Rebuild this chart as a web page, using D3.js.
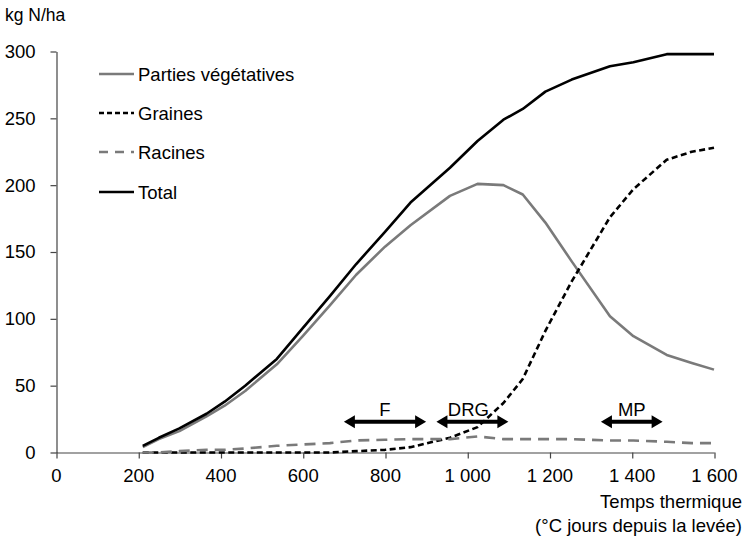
<!DOCTYPE html>
<html>
<head>
<meta charset="utf-8">
<script src="https://cdn.jsdelivr.net/npm/d3@7"></script>
<style>
  html, body { margin: 0; padding: 0; background: #fff; }
  svg { display: block; font-family: "Liberation Sans", Arial, Helvetica, sans-serif; }
</style>
</head>
<body>
<svg id="chart" width="745" height="539"></svg>
<script>
// ---- Data ----
const thermalTime = [211, 250, 300, 366, 410, 460, 537, 600, 666, 730, 800, 862, 958, 1025, 1088, 1135, 1190, 1254, 1347, 1404, 1485, 1546, 1600];
const vegetative  = [4, 10, 16, 27, 35, 46, 66, 87, 110, 133, 154, 170, 192, 201, 200, 193, 172, 143, 102, 87, 73, 67, 62];
const seeds       = [0, 0, 0, 0, 0, 0, 0, 0, 0, 1, 2, 4, 11, 19, 37, 55, 91, 128, 176, 197, 219, 225, 228];
const roots       = [0, 0, 1, 2, 2, 3, 5, 6, 7, 9, 9.5, 10, 10, 12, 10, 10, 10, 10, 9, 9, 8, 7, 7];
const total       = [5, 11, 18, 29, 38, 50, 70, 93, 117, 141, 165, 187, 213, 233, 249, 257, 270, 279, 289, 292, 298, 298, 298];

const seriesNames = ["Parties végétatives", "Graines", "Racines", "Total"];
const xTickValues = [0, 200, 400, 600, 800, 1000, 1200, 1400, 1600];
const xTickLabels = ["0", "200", "400", "600", "800", "1 000", "1 200", "1 400", "1 600"];
const yTickValues = [0, 50, 100, 150, 200, 250, 300];

const phaseLabels = ["F", "DRG", "MP"];
const phaseStart  = [700, 925, 1325];
const phaseEnd    = [900, 1100, 1475];
const phaseLevel  = 23;

// ---- Layout ----
const svg = d3.select("#chart");
const x = d3.scaleLinear().domain([0, 1600]).range([56, 714]);
const y = d3.scaleLinear().domain([0, 300]).range([452.5, 51.5]);

const axisColor = "#444";
const fontSize = 18.5;

// Axes
const gx = svg.append("g").attr("transform", "translate(0,452.5)")
  .call(d3.axisBottom(x).tickValues(xTickValues)
    .tickFormat((d, i) => xTickLabels[i]).tickSize(6).tickSizeOuter(0).tickPadding(10));
const gy = svg.append("g").attr("transform", "translate(56.5,0)")
  .call(d3.axisLeft(y).tickValues(yTickValues).tickSize(6).tickSizeOuter(0).tickPadding(15));

[gx, gy].forEach(g => {
  g.select(".domain").attr("stroke", axisColor).attr("stroke-width", 1.2);
  g.selectAll(".tick line").attr("stroke", axisColor).attr("stroke-width", 1.2);
  g.selectAll(".tick text").attr("fill", "#000").attr("font-size", fontSize)
    .attr("font-family", "Liberation Sans, Arial, sans-serif");
});
gx.selectAll(".tick line").attr("transform", "translate(0.5,0)");

// Titles
svg.append("text").attr("x", 5).attr("y", 21).attr("font-size", 17.5).text("kg N/ha");
svg.append("text").attr("x", 742).attr("y", 508).attr("text-anchor", "end")
  .attr("font-size", fontSize).text("Temps thermique");
svg.append("text").attr("x", 742).attr("y", 532).attr("text-anchor", "end")
  .attr("font-size", fontSize).text("(°C jours depuis la levée)");

// Series
const styles = [
  { data: vegetative, color: "#7a7a7a", width: 2.6, dash: null },
  { data: seeds,      color: "#000",    width: 2.6, dash: "6,3.5" },
  { data: roots,      color: "#7a7a7a", width: 2.6, dash: "11,7" },
  { data: total,      color: "#000",    width: 2.6, dash: null }
];

const line = d3.line().x(d => x(d[0])).y(d => y(d[1]));

styles.forEach(s => {
  svg.append("path")
    .datum(thermalTime.map((t, i) => [t, s.data[i]]))
    .attr("d", line)
    .attr("fill", "none")
    .attr("stroke", s.color)
    .attr("stroke-width", s.width)
    .attr("stroke-linejoin", "round")
    .attr("stroke-dasharray", s.dash);
});

// Legend
const legendRows = [74, 113, 152, 192];
const legendDash = [null, "5,3", "9,7", null];
seriesNames.forEach((name, i) => {
  svg.append("line")
    .attr("x1", 99).attr("x2", 134).attr("y1", legendRows[i]).attr("y2", legendRows[i])
    .attr("stroke", styles[i].color).attr("stroke-width", 2.6)
    .attr("stroke-dasharray", legendDash[i]);
  svg.append("text").attr("x", 138).attr("y", legendRows[i] + 6.5)
    .attr("font-size", fontSize).text(name);
});

// Phase arrows
const headLen = 11, headHalf = 6.5;
phaseLabels.forEach((lab, i) => {
  const x0 = x(phaseStart[i]), x1 = x(phaseEnd[i]), yy = y(phaseLevel);
  svg.append("line").attr("x1", x0 + headLen - 1).attr("x2", x1 - headLen + 1)
    .attr("y1", yy).attr("y2", yy).attr("stroke", "#000").attr("stroke-width", 4);
  svg.append("path")
    .attr("d", `M${x0},${yy} L${x0 + headLen},${yy - headHalf} L${x0 + headLen},${yy + headHalf} Z`)
    .attr("fill", "#000");
  svg.append("path")
    .attr("d", `M${x1},${yy} L${x1 - headLen},${yy - headHalf} L${x1 - headLen},${yy + headHalf} Z`)
    .attr("fill", "#000");
  svg.append("text").attr("x", (x0 + x1) / 2 - (lab === "DRG" ? 4 : 0)).attr("y", yy - 6)
    .attr("text-anchor", "middle").attr("font-size", fontSize).text(lab);
});
</script>
</body>
</html>
